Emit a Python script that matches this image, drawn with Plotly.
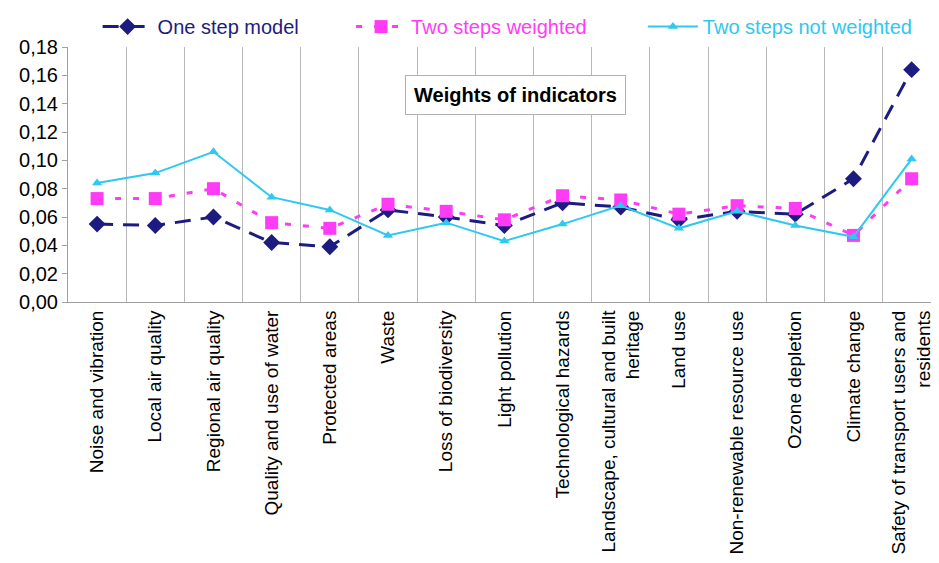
import plotly.graph_objects as go

categories = [
    "Noise and vibration", "Local air quality", "Regional air quality",
    "Quality and use of water", "Protected areas", "Waste", "Loss of biodiversity",
    "Light pollution", "Technological hazards",
    "Landscape, cultural and built<br>heritage", "Land use",
    "Non-renewable resource use", "Ozone depletion", "Climate change",
    "Safety of transport users and<br>residents",
]
one_step = [0.055, 0.054, 0.060, 0.042, 0.039, 0.065, 0.060, 0.054, 0.070,
            0.067, 0.058, 0.064, 0.062, 0.087, 0.164]
two_weighted = [0.073, 0.073, 0.080, 0.056, 0.052, 0.069, 0.064, 0.058, 0.075,
                0.072, 0.062, 0.068, 0.066, 0.047, 0.087]
two_not_weighted = [0.084, 0.091, 0.106, 0.074, 0.065, 0.047, 0.056, 0.043, 0.055,
                    0.068, 0.052, 0.064, 0.054, 0.046, 0.101]
y_ticks = [0, 0.02, 0.04, 0.06, 0.08, 0.10, 0.12, 0.14, 0.16, 0.18]

NAVY = "#1c1c80"
MAGENTA = "#ff3cf5"
CYAN = "#2ec8f0"
FONT = "Liberation Sans, Arial, sans-serif"

fig = go.Figure()
fig.add_trace(go.Scatter(
    x=categories, y=one_step, name="One step model", mode="lines+markers",
    line=dict(color=NAVY, width=3, dash="16px,10px"),
    marker=dict(symbol="diamond", size=13, color=NAVY), legend="legend",
    showlegend=True))
fig.add_trace(go.Scatter(
    x=categories, y=two_weighted, name="Two steps weighted", mode="lines+markers",
    line=dict(color=MAGENTA, width=3, dash="6px,12px"),
    marker=dict(symbol="square", size=13, color=MAGENTA), legend="legend2",
    showlegend=True))
fig.add_trace(go.Scatter(
    x=categories, y=two_not_weighted, name="Two steps not weighted", mode="lines+markers",
    line=dict(color=CYAN, width=2),
    marker=dict(symbol="triangle-up", size=9, color=CYAN), legend="legend3",
    showlegend=True))

def leg(x, color):
    return dict(x=x, y=1.08, xanchor="left", yanchor="middle", orientation="h",
                bgcolor="rgba(0,0,0,0)", font=dict(size=20, color=color, family=FONT),
                itemwidth=50)

fig.update_layout(
    width=939, height=563,
    margin=dict(l=60, r=8, t=39, b=269, autoexpand=False),
    paper_bgcolor="white", plot_bgcolor="white",
    separators=",.",
    showlegend=True,
    font=dict(family=FONT, color="black"),
    legend=leg(0.034, NAVY),
    legend2=leg(0.325, MAGENTA),
    legend3=leg(0.66, CYAN),
    xaxis=dict(type="category", range=[-0.5, 14.47], tickson="boundaries",
               automargin=False,
               showgrid=True, gridcolor="#b8b8b8", gridwidth=1,
               showline=True, linecolor="#a0a0a0", linewidth=1,
               ticks="", tickangle=-90, tickfont=dict(size=19, family=FONT, color="black")),
    yaxis=dict(range=[0, 0.18], tickvals=y_ticks, tickformat=".2f",
               automargin=False,
               showgrid=False, zeroline=False,
               showline=True, linecolor="#a0a0a0", linewidth=1,
               ticks="outside", ticklen=5, tickcolor="#a0a0a0",
               tickfont=dict(size=20, family=FONT, color="black")),
    annotations=[dict(text="<b>Weights of indicators</b>", x=(515 - 68) / 871, y=0.1462,
                      xref="paper", yref="y",
                      showarrow=False, font=dict(size=20, family=FONT, color="black"),
                      bordercolor="#b0b0b0", borderwidth=1, borderpad=8, bgcolor="white")],
)
fig.write_html("out.html")
